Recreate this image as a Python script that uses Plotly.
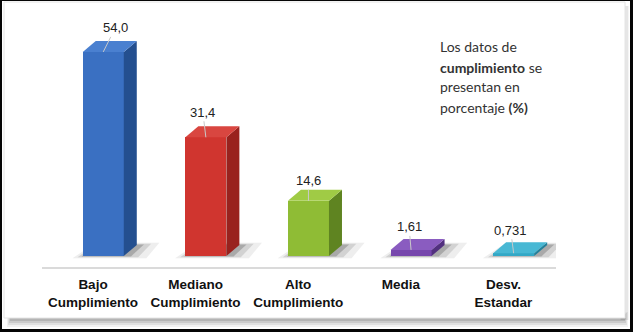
import plotly.graph_objects as go

categories = ["Bajo<br>Cumplimiento", "Mediano<br>Cumplimiento", "Alto<br>Cumplimiento", "Media", "Desv.<br>Estandar"]
values = [54.0, 31.4, 14.6, 1.61, 0.731]
value_labels = ["54,0", "31,4", "14,6", "1,61", "0,731"]
note_lines = ["Los datos de", "<b>cumplimiento</b> se", "presentan en", "porcentaje <b>(%)</b>"]
front_colors = ["#3a70c2", "#d0352f", "#8fbc35", "#7747ad", "#33a8c6"]
side_colors = ["#244f8f", "#99221e", "#5f8421", "#52307f", "#23819b"]
top_colors = ["#4a80d0", "#d94640", "#a0cb45", "#8a5cc0", "#48b8d4"]
label_offsets = [(12, -24), (-3, -25), (0, -20), (-2, -23), (-3, -23)]

W, H = 633, 332
# axis geometry (pixels)
x_pix0, x_pix1 = 42, 556
tick0_pix, step_pix = 93, 102.6
y_dom_bot_pix, y_dom_top_pix = 267, 15
zero_pix, px_per_unit = 256, 3.78

x_range = [(x_pix0 - tick0_pix) / step_pix, (x_pix1 - tick0_pix) / step_pix]
y_range = [-(y_dom_bot_pix - zero_pix) / px_per_unit, (zero_pix - y_dom_top_pix) / px_per_unit]

bar_w, bar_off = 0.40, -0.10
dx = 13 / step_pix
dy = 11 / px_per_unit

xs = list(range(len(categories)))

fig = go.Figure()

# front faces
fig.add_trace(go.Bar(x=xs, y=values, width=bar_w, offset=bar_off,
                     marker=dict(color=front_colors, line=dict(width=0)),
                     hoverinfo="skip", showlegend=False))

shapes = []
def pshape(x0, y0, x1, y1, **kw):
    return dict(type="rect", xref="paper", yref="paper",
                x0=x0 / W, x1=x1 / W, y0=1 - y1 / H, y1=1 - y0 / H,
                layer="below", **kw)

shapes.append(pshape(2, 1, 630, 329, fillcolor="white", line=dict(width=0)))
for i, a in enumerate([0.05, 0.07, 0.09, 0.11]):
    shapes.append(pshape(7 + i, 312 + i, 628 - i, 327 - i * 2,
                         fillcolor=f"rgba(0,0,0,{a})", line=dict(width=0)))
for i, a in enumerate([0.04, 0.06]):
    shapes.append(pshape(620 + i, 6, 629 - i, 320, fillcolor=f"rgba(0,0,0,{a})", line=dict(width=0)))
shapes.append(pshape(4, 2, 625, 318, fillcolor="white", line=dict(color="#e4e4e4", width=1)))

# floor shadows (soft streak to the right of each bar base)
for i, v in enumerate(values):
    x0 = i + bar_off
    x1 = x0 + bar_w
    for (ex_l, ex_r, ex_y, a) in [(0.10, 0.22, 0.6, 0.08), (0.05, 0.14, 0.35, 0.14), (0.01, 0.07, 0.1, 0.24)]:
        path = (f"M {x0 - ex_l} {-ex_y} L {x1 + ex_r} {-ex_y} "
                f"L {x1 + dx + ex_r} {dy + ex_y} L {x0 + dx} {dy + ex_y} Z")
        shapes.append(dict(type="path", xref="x", yref="y", path=path,
                           fillcolor=f"rgba(40,40,40,{a})", line=dict(width=0), layer="below"))

# side and top faces
for i, v in enumerate(values):
    x0 = i + bar_off
    x1 = x0 + bar_w
    fig.add_trace(go.Scatter(x=[x1, x1 + dx, x1 + dx, x1, x1], y=[0, dy, v + dy, v, 0],
                             fill="toself", fillcolor=side_colors[i], mode="lines",
                             line=dict(width=0, color=side_colors[i]),
                             hoverinfo="skip", showlegend=False))
    fig.add_trace(go.Scatter(x=[x0, x1, x1 + dx, x0 + dx, x0], y=[v, v, v + dy, v + dy, v],
                             fill="toself", fillcolor=top_colors[i], mode="lines",
                             line=dict(width=0, color=top_colors[i]),
                             hoverinfo="skip", showlegend=False))

annotations = []
for i, v in enumerate(values):
    ax, ay = label_offsets[i]
    annotations.append(dict(x=i + bar_off + bar_w / 2, y=v, xref="x", yref="y",
                            text=value_labels[i], showarrow=True, arrowhead=0,
                            arrowwidth=1, arrowcolor="#c9c9c9", ax=ax, ay=ay,
                            standoff=0, startstandoff=0,
                            font=dict(family="Liberation Sans", size=13, color="#222")))

for k, line in enumerate(note_lines):
    annotations.append(dict(x=438 / W, y=1 - (47 + 20 * k) / H, xref="paper", yref="paper",
                            xanchor="left", yanchor="middle", align="left", showarrow=False,
                            text=line, font=dict(family="Lato", size=14, color="#333")))

fig.update_layout(
    width=W, height=H,
    margin=dict(l=0, r=0, t=0, b=0),
    paper_bgcolor="#050505",
    plot_bgcolor="rgba(0,0,0,0)",
    shapes=shapes,
    annotations=annotations,
    showlegend=False,
    bargap=0,
    xaxis=dict(domain=[x_pix0 / W, x_pix1 / W], range=x_range,
               tickvals=xs, ticktext=categories,
               tickfont=dict(family="Liberation Sans", size=13.5, color="#111", weight="bold"),
               showline=True, linecolor="#dadada", linewidth=1.5,
               showgrid=False, zeroline=False, ticks="", ticklabelstandoff=4),
    yaxis=dict(domain=[1 - y_dom_bot_pix / H, 1 - y_dom_top_pix / H], range=y_range,
               visible=False, showgrid=False, zeroline=False),
)

fig.write_html("out.html", config={"displayModeBar": False},
               post_script="document.body.style.margin='0px';document.body.style.overflow='hidden';")
